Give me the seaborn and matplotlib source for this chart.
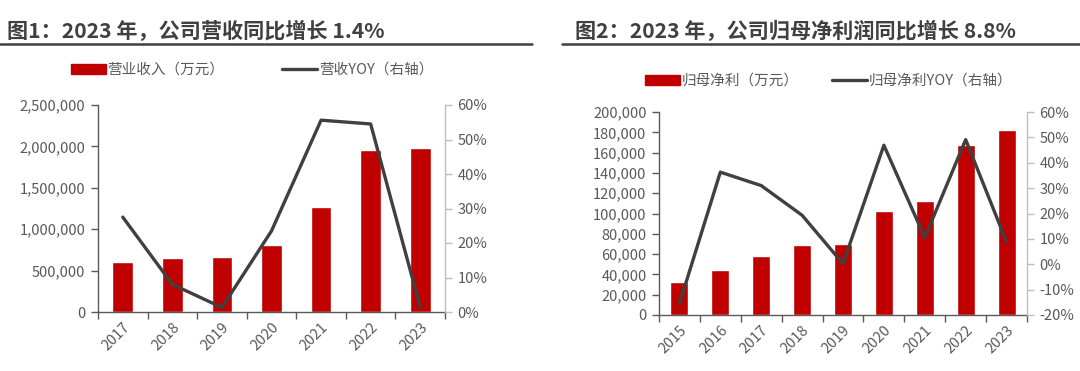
import numpy as np
import matplotlib
matplotlib.use('Agg')
import matplotlib.pyplot as plt
import matplotlib.ticker as mticker
from matplotlib.patches import Patch
from matplotlib.lines import Line2D
import seaborn as sns

# data
years1 = ['2017', '2018', '2019', '2020', '2021', '2022', '2023']
revenue = [605000, 652000, 664000, 813000, 1264000, 1957000, 1984000]
revenue_yoy = [27.5, 8.0, 1.3, 23.5, 55.6, 54.5, 1.4]

years2 = ['2015', '2016', '2017', '2018', '2019', '2020', '2021', '2022', '2023']
profit = [32800, 44300, 58400, 69300, 69600, 102200, 112600, 167500, 182300]
profit_yoy = [-15.5, 36.3, 31.0, 19.3, 0.2, 46.9, 10.5, 49.1, 8.8]

sns.set_theme(style='white')
plt.rcParams['font.family'] = ['Noto Sans CJK SC', 'DejaVu Sans']

RED = '#C00000'
DARK = '#404040'
GRAY = '#595959'
LIGHT = '#BFBFBF'

fig = plt.figure(figsize=(10.8, 3.71), dpi=100)


def panel(rect, years, bars, yoy, bar_w, ymax, ystep, pmin, pmax, legend_xy, colsp,
          labels, title, title_x, line_x):
    ax = fig.add_axes(rect)
    sns.barplot(x=years, y=bars, color=RED, width=bar_w, saturation=1, ax=ax)
    n = len(years)
    ax.set_xlim(-0.5, n - 0.5)
    ax.set_ylim(0, ymax)
    ax.yaxis.set_major_locator(mticker.MultipleLocator(ystep))
    ax.yaxis.set_major_formatter(mticker.FuncFormatter(lambda v, p: f'{int(v):,}'))
    ax.set_xlabel('')
    ax.set_ylabel('')
    for s in ['top', 'right']:
        ax.spines[s].set_visible(False)
    ax.spines['left'].set_color(GRAY)
    ax.spines['bottom'].set_color(GRAY)
    ax.spines['left'].set_linewidth(1.0)
    ax.spines['bottom'].set_linewidth(1.0)
    ax.tick_params(axis='y', which='major', direction='out', length=5, width=1,
                   color=GRAY, labelcolor=GRAY, labelsize=10.5, left=True, pad=4)
    ax.tick_params(axis='x', which='major', length=0, labelcolor=GRAY, labelsize=10.5, pad=6)
    ax.set_xticks(np.arange(-0.5, n, 1.0), minor=True)
    ax.tick_params(axis='x', which='minor', direction='out', length=5, width=1, color=GRAY, bottom=True)
    for lab in ax.get_xticklabels():
        lab.set_rotation(45)
        lab.set_ha('right')
        lab.set_rotation_mode('anchor')

    ax2 = ax.twinx()
    sns.lineplot(x=np.arange(n), y=yoy, color=DARK, linewidth=2.4, ax=ax2)
    ax2.set_xlim(-0.5, n - 0.5)
    ax2.set_ylim(pmin, pmax)
    ax2.yaxis.set_major_locator(mticker.MultipleLocator(10))
    ax2.yaxis.set_major_formatter(mticker.FuncFormatter(lambda v, p: f'{int(round(v))}%'))
    for s in ['top', 'left', 'bottom']:
        ax2.spines[s].set_visible(False)
    ax2.spines['right'].set_color(LIGHT)
    ax2.spines['right'].set_linewidth(1.0)
    ax2.tick_params(axis='y', direction='out', length=5, width=1, color=LIGHT,
                    labelcolor=GRAY, labelsize=10.5, right=True, pad=4)
    ax2.set_ylabel('')

    handles = [Patch(facecolor=RED, edgecolor=RED),
               Line2D([0], [0], color=DARK, linewidth=2.4)]
    fig.legend(handles, labels, loc='center', bbox_to_anchor=legend_xy, ncol=2,
               frameon=False, fontsize=10.5, handlelength=2.4, handleheight=0.7,
               handletextpad=0.1, columnspacing=colsp, labelcolor=GRAY)

    fig.text(title_x, 1 - 31 / 371, title, fontsize=15.2, fontweight='bold',
             color=DARK, va='center', ha='left')
    fig.add_artist(Line2D(line_x, [1 - 43.5 / 371] * 2, color=DARK, linewidth=1.8,
                          transform=fig.transFigure))
    return ax, ax2


panel([98 / 1080, 1 - 312 / 371, (445 - 98) / 1080, (312 - 105) / 371],
      years1, revenue, revenue_yoy, 0.42, 2500000, 500000, 0, 60,
      (252 / 1080, 1 - 70 / 371), 4.0, ['营业收入（万元）', '营收YOY（右轴）'],
      '图1：2023 年，公司营收同比增长 1.4%', 7 / 1080, [0, 532 / 1080])

panel([659 / 1080, 1 - 315 / 371, (1027 - 659) / 1080, (315 - 112) / 371],
      years2, profit, profit_yoy, 0.44, 200000, 20000, -20, 60,
      (829 / 1080, 1 - 81 / 371), 2.3, ['归母净利（万元）', '归母净利YOY（右轴）'],
      '图2：2023 年，公司归母净利润同比增长 8.8%', 575 / 1080, [562 / 1080, 1.0])

fig.savefig('out.png', dpi=100, facecolor='white')
